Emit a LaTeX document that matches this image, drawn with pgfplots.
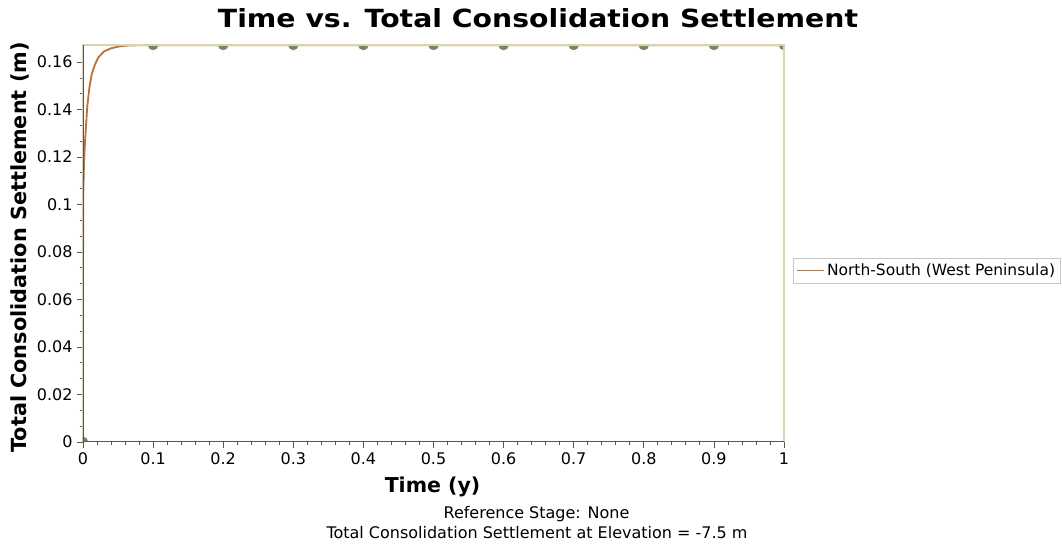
\documentclass[border=0pt]{standalone}
\usepackage{pgfplots}
\pgfplotsset{compat=1.18}
\usetikzlibrary{calc}
\usepackage{fontspec}
\setmainfont{DejaVu Sans}
\definecolor{curve}{RGB}{192,112,52}
\definecolor{mk}{RGB}{118,138,88}
\definecolor{frame}{RGB}{218,212,172}
\definecolor{axdark}{RGB}{85,85,85}
\begin{document}
\begin{tikzpicture}
\begin{axis}[
  name=ax,
  scale only axis,
  width=701pt, height=397pt,
  xmin=0, xmax=1, ymin=0, ymax=0.1672,
  clip marker paths=true,
  xtick={0,0.1,0.2,0.3,0.4,0.5,0.6,0.7,0.8,0.9,1},
  xticklabels={0,0.1,0.2,0.3,0.4,0.5,0.6,0.7,0.8,0.9,1},
  ytick={0,0.02,0.04,0.06,0.08,0.1,0.12,0.14,0.16},
  yticklabels={0,0.02,0.04,0.06,0.08,0.1,0.12,0.14,0.16},
  minor x tick num=4, minor y tick num=2,
  tick align=outside, tick pos=left,
  major tick length=6pt, minor tick length=3pt,
  every tick/.style={axdark, line width=0.8pt},
  tick label style={font=\fontsize{16}{18}\selectfont, text=black},
  xticklabel style={yshift=-1pt},
  yticklabel style={xshift=-1pt},
  axis line style={draw=frame, line width=1pt},
  xlabel={\bfseries Time (y)},
  ylabel={\bfseries Total Consolidation Settlement (m)},
  xlabel style={font=\fontsize{20.5}{24}\selectfont, at={(axis description cs:0.4986,0)}, anchor=base, yshift=-51pt},
  ylabel style={font=\fontsize{20.8}{24}\selectfont, at={(axis description cs:0,0.49)}, anchor=base, yshift=56pt},
  legend style={at={(1,0.432)}, anchor=west, xshift=9pt, draw=black!22,
    font=\fontsize{15.5}{18}\selectfont, inner xsep=3pt, inner ysep=4pt},
  legend image code/.code={\draw[#1, line width=1.6pt] (0pt,0pt) -- (18pt,0pt); \path (0pt,0pt) -- (27pt,0pt);},
  legend cell align=left,
]
\addplot[mk, only marks, mark=*, mark size=5pt, forget plot] coordinates {
 (0,0) (0.1,0.1672) (0.2,0.1672) (0.3,0.1672) (0.4,0.1672) (0.5,0.1672)
 (0.6,0.1672) (0.7,0.1672) (0.8,0.1672) (0.9,0.1672) (1,0.1672)};
\addplot[curve, line width=1.8pt, no marks] coordinates {
 (0,0.070) (0.0005,0.106) (0.0015,0.118) (0.003,0.127) (0.006,0.141)
 (0.009,0.149) (0.0125,0.155) (0.017,0.159) (0.022,0.162) (0.03,0.1645)
 (0.04,0.1658) (0.05,0.1665) (0.06,0.1669) (0.08,0.1671) (1,0.1671)};
\addlegendentry{North-South (West Peninsula)}
\end{axis}
\draw[frame, line width=1.2pt] (ax.north west) -- (ax.north east) -- (ax.south east);
\draw[axdark, line width=1pt] (ax.north west) -- (ax.south west) -- (ax.south east);
\node[anchor=base, inner sep=0pt] at ($(ax.north west)+(455pt,17pt)$) {\resizebox{640pt}{19pt}{\bfseries Time vs. Total Consolidation Settlement}};
\node[anchor=base, inner sep=0pt, font=\fontsize{16}{18}\selectfont] at ($(ax.south west)+(453.5pt,-77pt)$) {Reference Stage: None};
\node[anchor=base, inner sep=0pt, font=\fontsize{16}{18}\selectfont] at ($(ax.south west)+(454pt,-97pt)$) {Total Consolidation Settlement at Elevation = -7.5 m};
\path (ax.south west) ++(-83pt,-103pt) rectangle ++(1062pt,545pt);
\end{tikzpicture}
\end{document}
